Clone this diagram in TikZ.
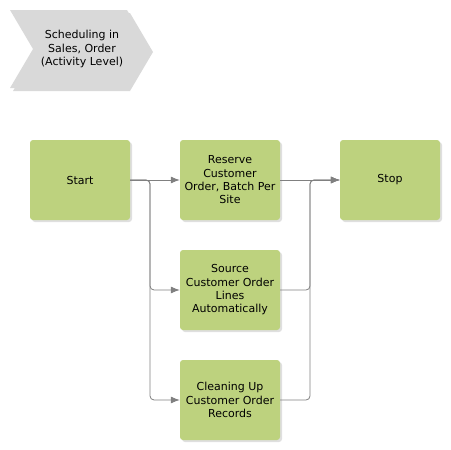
\documentclass[tikz,border=0pt]{standalone}
\usepackage{fontspec}
\setmainfont{DejaVu Sans}
\usetikzlibrary{arrows.meta,shadows,calc}
\definecolor{actgreen}{HTML}{BDD27E}
\definecolor{linegray}{HTML}{808080}
\definecolor{chevgray}{HTML}{D9D9D9}
\tikzset{
    block/.style = {fill=actgreen, rectangle, rounded corners=3pt,
        minimum height=80pt,
        minimum width=100pt, align=center,
        font=\fontsize{11}{13.3}\selectfont,
        drop shadow={shadow xshift=2pt, shadow yshift=-2pt, fill=black!25}},
    title/.style = {align=center, font=\fontsize{11}{13.5}\selectfont},
    arrow/.style={draw=linegray, line width=0.8pt, ->, rounded corners=4pt}
}

\begin{document}
\begin{tikzpicture}[x=1pt, y=1pt, auto, node distance=150pt, >={Latex[length=9pt,width=7pt]}]
        \useasboundingbox (0,0) rectangle (451,-450);
        % process chevron
        \fill [black!15] (13,-13) -- (130,-13) -- (153,-52) -- (130,-91) -- (13,-91) -- (36,-52) -- cycle;
        \fill [chevgray] (10,-10) -- (127,-10) -- (150,-49) -- (127,-88) -- (10,-88) -- (33,-49) -- cycle;
        \node [title] (process) at (82,-49) {Scheduling in\\Sales, Order\\(Activity Level)};
        \node [block] (start) at (80,-180) {Start};
        \node [block, right of=start] (reserve) {Reserve\\Customer\\Order, Batch Per\\Site};
        \node [block, right of=reserve, node distance=160pt] (stop) {Stop};
        \node [block, below of=reserve, node distance=110pt] (source) {Source\\Customer Order\\Lines\\Automatically};
        \node [block, below of=source, node distance=110pt] (clean) {Cleaning Up\\Customer Order\\Records};
        \coordinate (split) at ($(start.east)!0.4!(reserve.west)$);
        \coordinate (merge) at ($(reserve.east)!0.5!(stop.west)$);
        \draw [arrow] (start) -- (reserve);
        \draw [arrow] (start.east) -- (split) |- (source);
        \draw [arrow] (start.east) -- (split) |- (clean);
        \draw [arrow] (reserve) -- (stop);
        \draw [arrow] (source) -| (merge) -- (stop);
        \draw [arrow] (clean) -| (merge) -- (stop);
\end{tikzpicture}
\end{document}
